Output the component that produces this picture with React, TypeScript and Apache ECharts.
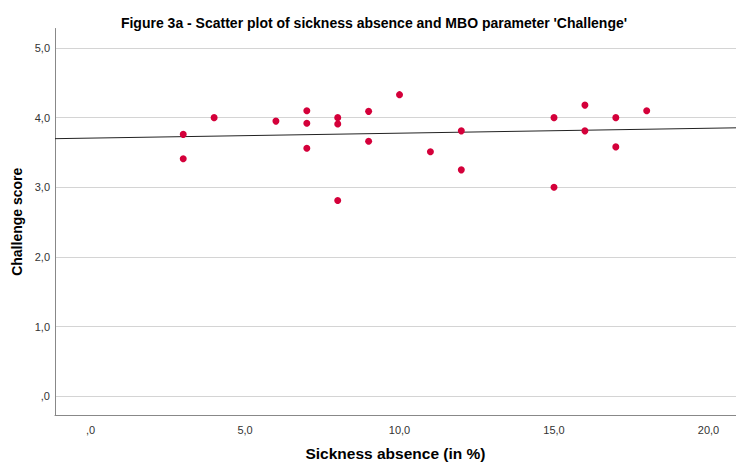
import React, { useEffect, useRef } from "react";
import * as echarts from "echarts";

const sicknessAbsence = [3, 3, 4, 6, 7, 7, 7, 8, 8, 8, 9, 9, 10, 11, 12, 12, 15, 15, 16, 16, 17, 17, 18];
const challengeScore = [3.76, 3.41, 4.0, 3.95, 4.1, 3.92, 3.56, 4.0, 3.91, 2.81, 4.09, 3.66, 4.33, 3.51, 3.81, 3.25, 4.0, 3.0, 4.18, 3.81, 4.0, 3.58, 4.1];
const fitIntercept = 3.706;
const fitSlope = 0.00708;
const xRange = [-1.15, 20.89];
const yRange = [-0.27, 5.28];

const fmt = (v: number) => {
  if (Math.abs(v - Math.round(v)) > 1e-6) return "";
  return v.toFixed(1).replace(".", ",").replace(/^0/, "");
};

export default function App() {
  const ref = useRef<HTMLDivElement>(null);
  useEffect(() => {
    if (!ref.current) return;
    const chart = echarts.init(ref.current, null, { renderer: "svg" });
    const font = "'Liberation Sans', Arial, sans-serif";
    const points = sicknessAbsence.map((x, i) => [x, challengeScore[i]]);
    const fitLine = xRange.map((x) => [x, fitIntercept + fitSlope * x]);
    chart.setOption({
      animation: false,
      backgroundColor: "#ffffff",
      title: {
        text: "Figure 3a - Scatter plot of sickness absence and MBO parameter 'Challenge'",
        left: 369,
        textAlign: "center",
        top: 11,
        textStyle: { fontFamily: font, fontSize: 14, fontWeight: "bold", color: "#000" },
      },
      grid: { left: 55, right: 0, top: 28.5, bottom: 46, containLabel: false },
      xAxis: {
        type: "value",
        min: xRange[0],
        max: xRange[1],
        minInterval: 5,
        maxInterval: 5,
        name: "Sickness absence (in %)",
        nameLocation: "middle",
        nameGap: 30,
        nameTextStyle: { fontFamily: font, fontSize: 15.5, fontWeight: "bold", color: "#000" },
        axisLine: { show: true, onZero: false, lineStyle: { color: "#888888", width: 1 } },
        axisTick: { show: false },
        splitLine: { show: false },
        axisLabel: {
          formatter: fmt,
          showMinLabel: false,
          showMaxLabel: false,
          fontFamily: font,
          fontSize: 11,
          color: "#333",
          margin: 9,
        },
      },
      yAxis: {
        type: "value",
        min: yRange[0],
        max: yRange[1],
        minInterval: 1,
        maxInterval: 1,
        name: "Challenge score",
        nameLocation: "middle",
        nameGap: 31,
        nameTextStyle: { fontFamily: font, fontSize: 14, fontWeight: "bold", color: "#000" },
        axisLine: { show: true, onZero: false, lineStyle: { color: "#888888", width: 1 } },
        axisTick: { show: false },
        splitLine: {
          show: true,
          showMinLine: false,
          showMaxLine: false,
          lineStyle: { color: "#d4d4d4", width: 1 },
        },
        axisLabel: {
          formatter: fmt,
          showMinLabel: false,
          showMaxLabel: false,
          fontFamily: font,
          fontSize: 11,
          color: "#333",
          margin: 5,
        },
      },
      series: [
        {
          type: "line",
          data: fitLine,
          showSymbol: false,
          symbol: "none",
          lineStyle: { color: "#222222", width: 1 },
          z: 2,
          silent: true,
        },
        {
          type: "scatter",
          data: points,
          symbol: "circle",
          symbolSize: 7,
          itemStyle: { color: "#d4003a", opacity: 1 },
          z: 3,
        },
      ],
    });
    return () => chart.dispose();
  }, []);
  return (
    <div
      ref={ref}
      style={{ position: "absolute", left: 0, top: 0, width: 736, height: 466 }}
    />
  );
}
